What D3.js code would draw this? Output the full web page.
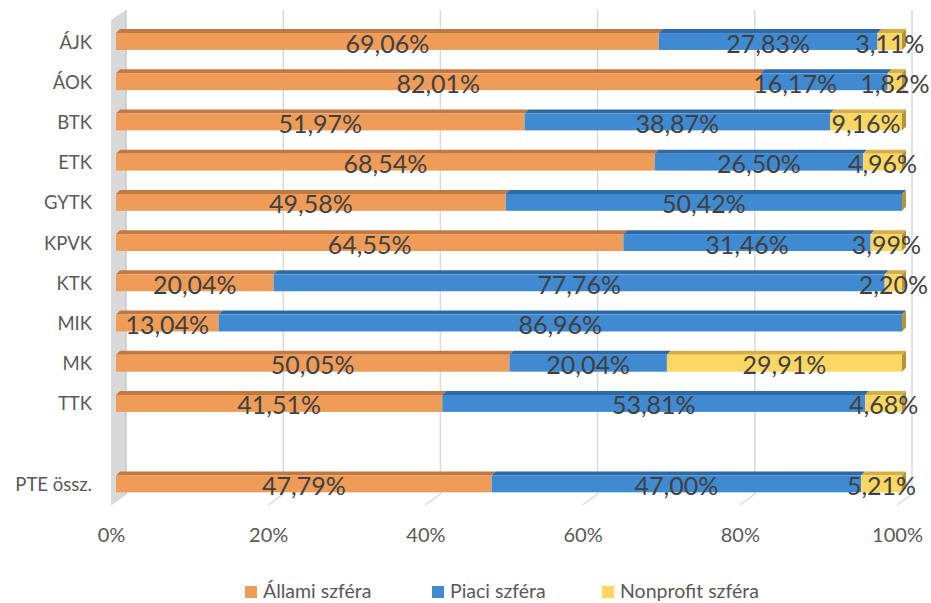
<!DOCTYPE html>
<html><head><meta charset="utf-8">
<script src="https://cdn.jsdelivr.net/npm/d3@7"></script>
<style>body{margin:0;background:#fff}svg{display:block}text{font-family:Lato,"Open Sans",sans-serif}</style>
</head><body><svg id="c" width="931" height="603"></svg>
<script>
const categories = ["ÁJK","ÁOK","BTK","ETK","GYTK","KPVK","KTK","MIK","MK","TTK","","PTE össz."];
const allami    = [69.06,82.01,51.97,68.54,49.58,64.55,20.04,13.04,50.05,41.51,null,47.79];
const piaci     = [27.83,16.17,38.87,26.50,50.42,31.46,77.76,86.96,20.04,53.81,null,47.00];
const nonprofit = [3.11,1.82,9.16,4.96,0,3.99,2.20,0,29.91,4.68,null,5.21];
const seriesNames = ["Állami szféra","Piaci szféra","Nonprofit szféra"];
const tickValues = [0,20,40,60,80,100];
// manual label nudges (row-series -> px), as placed in the original
const labelNudge = {"1-1": -29};

const colors = [
  {front:"#EF9C59", top:"#C27840", side:"#B86F35"},
  {front:"#408AD2", top:"#2E6AA8", side:"#2A5F98"},
  {front:"#FDD764", top:"#D4AF45", side:"#B3943A"}
];

const svg = d3.select("#c");
const frontX = d3.scaleLinear().domain([0,100]).range([111,897]);
const backX  = d3.scaleLinear().domain([0,100]).range([126,912]);
const barX   = d3.scaleLinear().domain([0,100]).range([116,902]);
const floorFrontY=505, floorBackY=494, wallTopY=10, sideTopY=20;
const y = d3.scaleBand().domain(d3.range(categories.length)).range([17.4,500]).paddingInner(0.58).paddingOuter(0.29);
const dx=4, dy=4;

svg.append("polygon").attr("points",[[111,sideTopY],[126,wallTopY],[126,floorBackY],[111,floorFrontY]].join(" "))
  .attr("fill","#d9d9d9");
svg.append("line").attr("x1",126).attr("x2",126).attr("y1",wallTopY).attr("y2",floorBackY).attr("stroke","#c8c8c8").attr("stroke-width",1.5);
tickValues.slice(1).forEach(t=>{
  svg.append("line").attr("x1",backX(t)).attr("x2",backX(t)).attr("y1",wallTopY).attr("y2",floorBackY)
    .attr("stroke","#d9d9d9").attr("stroke-width",1.5);
});
tickValues.forEach(t=>{
  svg.append("line").attr("x1",frontX(t)).attr("y1",floorFrontY).attr("x2",backX(t)).attr("y2",floorBackY)
    .attr("stroke","#d9d9d9").attr("stroke-width",1.5);
});

const rows = categories.map((c,i)=>({cat:c,i,vals:[allami[i],piaci[i],nonprofit[i]]}));
const bh = y.bandwidth();
const gBars = svg.append("g");
rows.forEach(r=>{
  if(r.vals[0]==null) return;
  const yTop = y(r.i)+dy, yBot = y(r.i)+dy+bh;
  let acc=0;
  const segs = r.vals.map((v,k)=>{const s={k,v,a:acc,b:acc+v};acc+=v;return s;});
  segs.forEach(s=>{
    const x0=barX(s.a), x1=barX(s.b);
    if(s.v>0){
      gBars.append("polygon").attr("points",[[x0,yTop],[x1,yTop],[x1+dx,yTop-dy],[x0+dx,yTop-dy]].join(" "))
        .attr("fill",colors[s.k].top);
      gBars.append("rect").attr("x",x0).attr("y",yTop).attr("width",x1-x0).attr("height",yBot-yTop)
        .attr("fill",colors[s.k].front);
    }
  });
  const last = segs[segs.length-1];
  const xe = barX(last.b);
  gBars.append("polygon").attr("points",[[xe,yTop],[xe+dx,yTop-dy],[xe+dx,yBot-dy],[xe,yBot]].join(" "))
    .attr("fill",colors[2].side);
  segs.forEach(s=>{
    if(s.v>0){
      const nudge = labelNudge[r.i+"-"+s.k]||0;
      gBars.append("text").attr("x",barX((s.a+s.b)/2)+nudge).attr("y",(yTop+yBot)/2+1)
        .attr("text-anchor","middle").attr("dominant-baseline","central")
        .attr("font-size",25).attr("fill","#404040")
        .text(d3.format(".2f")(s.v).replace(".",",")+"%");
    }
  });
});

rows.forEach(r=>{
  svg.append("text").attr("x",92).attr("y",y(r.i)+dy+bh/2).attr("text-anchor","end")
    .attr("dominant-baseline","central").attr("font-size",18.5).attr("fill","#595959").text(r.cat);
});
const xAxis = d3.axisBottom(frontX).tickValues(tickValues).tickFormat(d=>d+"%").tickSize(0);
const ga = svg.append("g").attr("transform",`translate(0,${floorFrontY+20})`).call(xAxis);
ga.select(".domain").remove();
ga.selectAll("text").attr("font-size",20).attr("fill","#595959").attr("font-family","Lato");

const legX=[245,432,602];
seriesNames.forEach((n,k)=>{
  svg.append("rect").attr("x",legX[k]).attr("y",586).attr("width",12).attr("height",12).attr("fill",colors[k].front);
  svg.append("text").attr("x",legX[k]+18).attr("y",590).attr("dominant-baseline","central")
    .attr("font-size",19.5).attr("fill","#595959").text(n);
});
</script></body></html>
